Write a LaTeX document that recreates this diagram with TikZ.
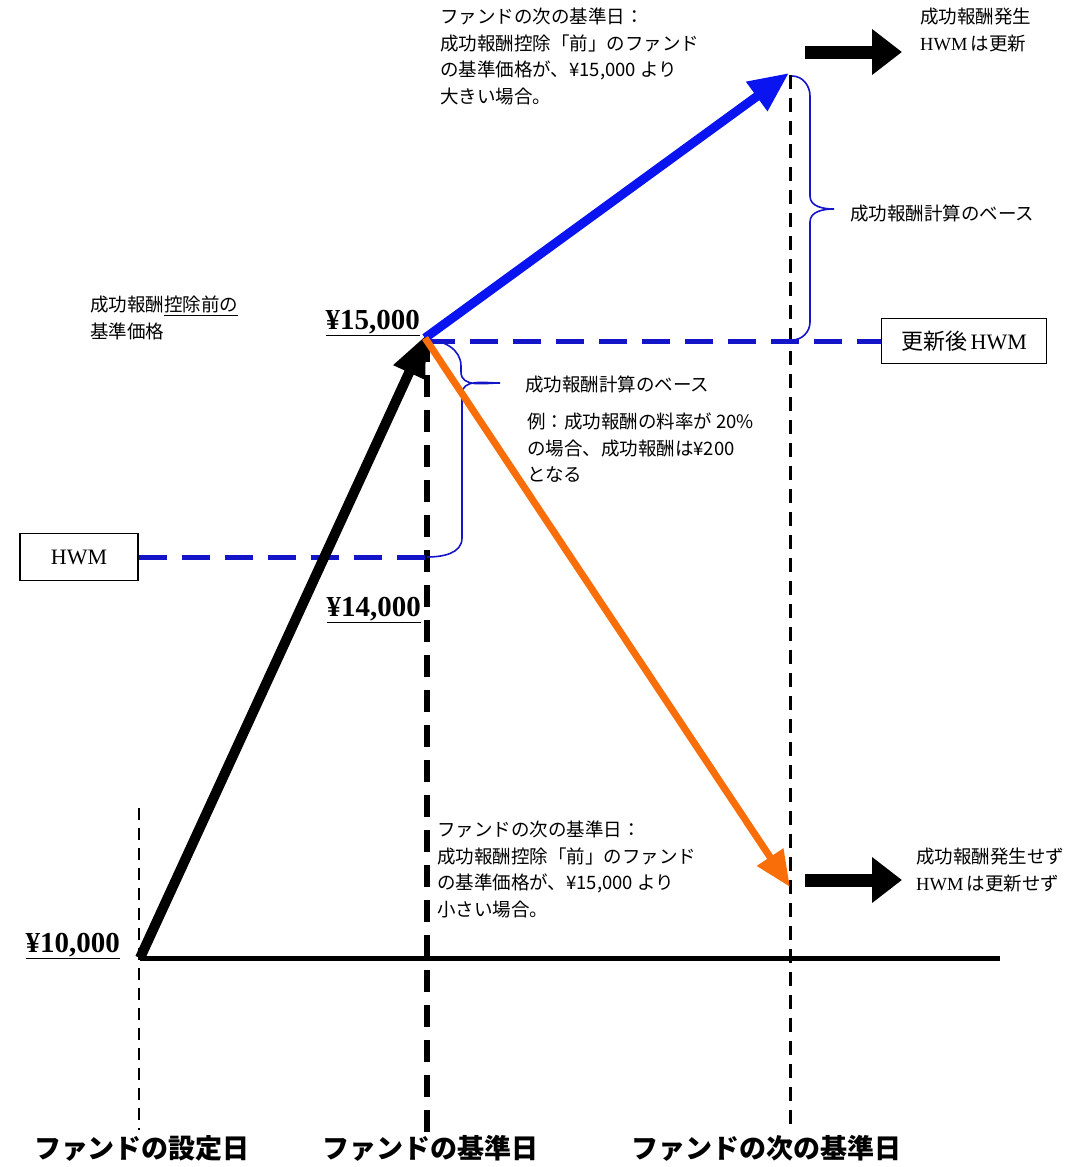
\documentclass[tikz,border=0pt]{standalone}
\usepackage{fontspec}
\setmainfont{Liberation Serif}
\newfontfamily\jp{Noto Sans CJK JP}
\usetikzlibrary{arrows.meta}
\definecolor{hwmblue}{RGB}{20,20,200}
\definecolor{upblue}{RGB}{10,20,240}
\definecolor{downorange}{RGB}{250,110,10}

\begin{document}
\begin{tikzpicture}[x=1pt, y=-1pt, >=Latex,
  small/.style = {font=\jp\fontsize{18.5}{26.5}\selectfont, align=left, inner sep=0pt},
  price/.style = {font=\bfseries\fontsize{29}{29}\selectfont, inner sep=1pt},
  daylabel/.style = {font=\jp\bfseries\fontsize{27}{27}\selectfont, inner sep=0pt},
  hwmbox/.style = {draw, line width=1.2pt, font=\fontsize{22}{22}\selectfont, inner sep=0pt},
  daythin/.style = {line width=2pt, dash pattern=on 12pt off 8pt},
  daythick/.style = {line width=6pt, dash pattern=on 22pt off 13pt},
  daymid/.style = {line width=3pt, dash pattern=on 14pt off 9pt},
  hwmline/.style = {hwmblue, line width=5pt, dash pattern=on 28pt off 15pt},
  brace/.style = {hwmblue, line width=1.6pt},
  result/.style = {line width=13pt, -{Triangle[length=30pt,width=44pt]}}]
\useasboundingbox (0,0) rectangle (1089,1167);

% points of the value path
\coordinate (o) at (140,958);
\coordinate (b) at (425,338);
\coordinate (up) at (789,73);
\coordinate (dn) at (790,887);
\coordinate (e) at (1000,958);

% day lines
\coordinate (d1t) at (139,808);
\coordinate (d1b) at (139,1130);
\coordinate (d2t) at (427,340);
\coordinate (d2b) at (427,1135);
\coordinate (d3t) at (790,75);
\coordinate (d3b) at (790,1130);
\draw[daythin] (d1t) -- (d1b);
\draw[daythick] (d2t) -- (d2b);
\draw[daymid] (d3t) -- (d3b);
\draw[line width=5pt] (o) -- (e);

% HWM boxes and levels
\node[hwmbox, minimum width=118pt, minimum height=47pt] (hwm) at (79,557) {HWM\hspace{16pt}};
\node[hwmbox, minimum width=165pt, minimum height=45pt] (newhwm) at (964,341) {\jp 更新後\,{\rmfamily HWM}};
\coordinate (hwmend) at (427,557);
\coordinate (b15) at (427,341);
\draw[hwmline] (hwm.east) -- (hwmend);
\draw[hwmline] (b15) -- (newhwm.west);

% braces
\draw[brace] (427,340) to[out=0,in=90] (461,366) -- (461,372)
  to[out=-90,in=180] (500,383) to[out=180,in=90] (462,394)
  -- (462,538) to[out=-90,in=0] (hwmend);
\draw[brace] (792,76) to[out=0,in=90] (810,96) -- (810,196)
  to[out=-90,in=180] (834,209) to[out=180,in=90] (810,222)
  -- (810,322) to[out=-90,in=0] (792,340);

% value arrows
\draw[line width=10pt, -{Triangle[length=42pt,width=32pt]}, shorten >=-4pt] (o) -- (b);
\draw[upblue, line width=9pt, -{Triangle[length=40pt,width=34pt]}] (b) -- (up);
\draw[downorange, line width=7pt, -{Triangle[length=36pt,width=30pt]}] (b) -- (dn);

% result arrows
\coordinate (r1s) at (805,52);
\coordinate (r1e) at (902,52);
\coordinate (r2s) at (805,880);
\coordinate (r2e) at (902,880);
\draw[result] (r1s) -- (r1e);
\draw[result] (r2s) -- (r2e);

% texts
\node[small, anchor=north west] (uptxt) at (440,8) {ファンドの次の基準日：\\成功報酬控除「前」のファンド\\の基準価格が、¥15,000 より\\大きい場合。};
\node[small, anchor=north west] (uprs) at (920,8) {成功報酬発生\\{\rmfamily HWM}\,は更新};
\node[small, anchor=west] (base1) at (850,213) {成功報酬計算のベース};
\node[small, anchor=north west] (pre) at (90,296) {成功報酬\underline{控除前の}\\基準価格};
\node[price, anchor=south east] (p15) at (421,337) {\underline{¥15,000}};
\node[small, anchor=west] (base2) at (525,384) {成功報酬計算のベース};
\node[small, anchor=north west] (ex) at (527,413) {例：成功報酬の料率が 20\%\\の場合、成功報酬は¥200\\となる};
\node[price, anchor=south east] (p14) at (422,624) {\underline{¥14,000}};
\node[price, anchor=south east] (p10) at (121,960) {\underline{¥10,000}};
\node[small, anchor=north west] (dntxt) at (437,821) {ファンドの次の基準日：\\成功報酬控除「前」のファンド\\の基準価格が、¥15,000 より\\小さい場合。};
\node[small, anchor=north west] (dnrs) at (916,848) {成功報酬発生せず\\{\rmfamily HWM}\,は更新せず};
\node[daylabel] (day1) at (142,1148) {ファンドの設定日};
\node[daylabel] (day2) at (430,1148) {ファンドの基準日};
\node[daylabel] (day3) at (766,1148) {ファンドの次の基準日};
\end{tikzpicture}
\end{document}
